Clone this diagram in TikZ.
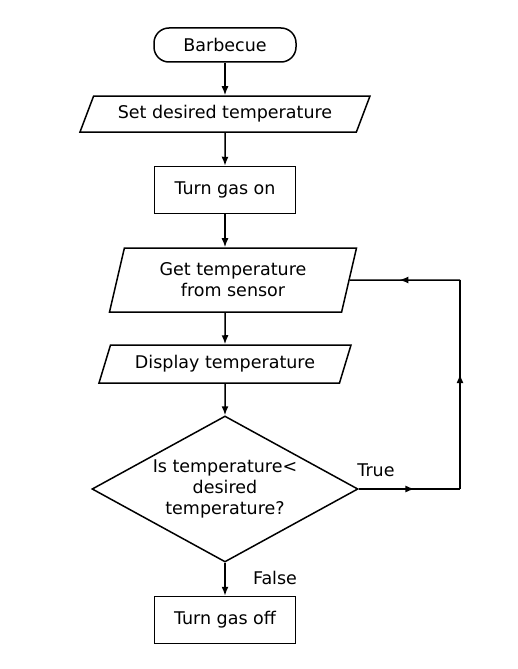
\documentclass[tikz,border=0pt]{standalone}
\usepackage{fontspec}
\setmainfont{DejaVu Sans}
\usetikzlibrary{shapes.geometric,arrows.meta,decorations.markings}
\begin{document}
\begin{tikzpicture}[x=1pt,y=-1pt,
  every node/.style={font=\fontsize{17.5}{21}\selectfont, align=center, line width=1.5pt},
  box/.style={draw, minimum width=141pt, minimum height=47pt},
  para/.style={draw, trapezium, trapezium stretches body, trapezium left angle=#1, trapezium right angle=180-#1},
  arr/.style={line width=1.5pt, -{Latex[length=9pt,width=7pt]}},
  mid/.style={postaction={decorate}, decoration={markings, mark=at position #1 with {\arrow{Latex[length=9pt,width=7pt]}}}}]
\useasboundingbox (0,0) rectangle (517,669);
\node[draw, rounded corners=15pt, minimum width=142pt, minimum height=34pt] (start) at (225,45) {Barbecue};
\node[para=60, minimum width=290pt, minimum height=36pt] (set) at (225,114) {Set desired temperature};
\node[box] (on) at (225,190) {Turn gas on};
\node[para=70, minimum width=247pt, minimum height=64pt] (get) at (233,280) {Get temperature\\from sensor};
\node[para=64, minimum width=252pt, minimum height=38pt] (disp) at (225,364) {Display temperature};
\node[draw, diamond, aspect=1.82, minimum width=266pt, minimum height=146pt, inner sep=0pt] (dec) at (225,489) {Is temperature<\\desired\\temperature?};
\node[box] (off) at (225,620) {Turn gas off};
\coordinate (c1) at (460,489);
\coordinate (c2) at (460,280);
\draw[arr] (start) -- (set);
\draw[arr] (set) -- (on);
\draw[arr] (on) -- (on |- get.north);
\draw[arr] (on |- get.south) -- (disp);
\draw[arr] (disp) -- (dec);
\draw[arr] (dec) -- (off);
\draw[line width=1.5pt, mid=0.55] (dec.east) -- (c1);
\draw[line width=1.5pt, mid=0.55] (c1) -- (c2);
\draw[line width=1.5pt, mid=0.55] (c2) -- (get.east);
\node (t) at (376,470) {True};
\node (f) at (275,578) {False};
\end{tikzpicture}
\end{document}
